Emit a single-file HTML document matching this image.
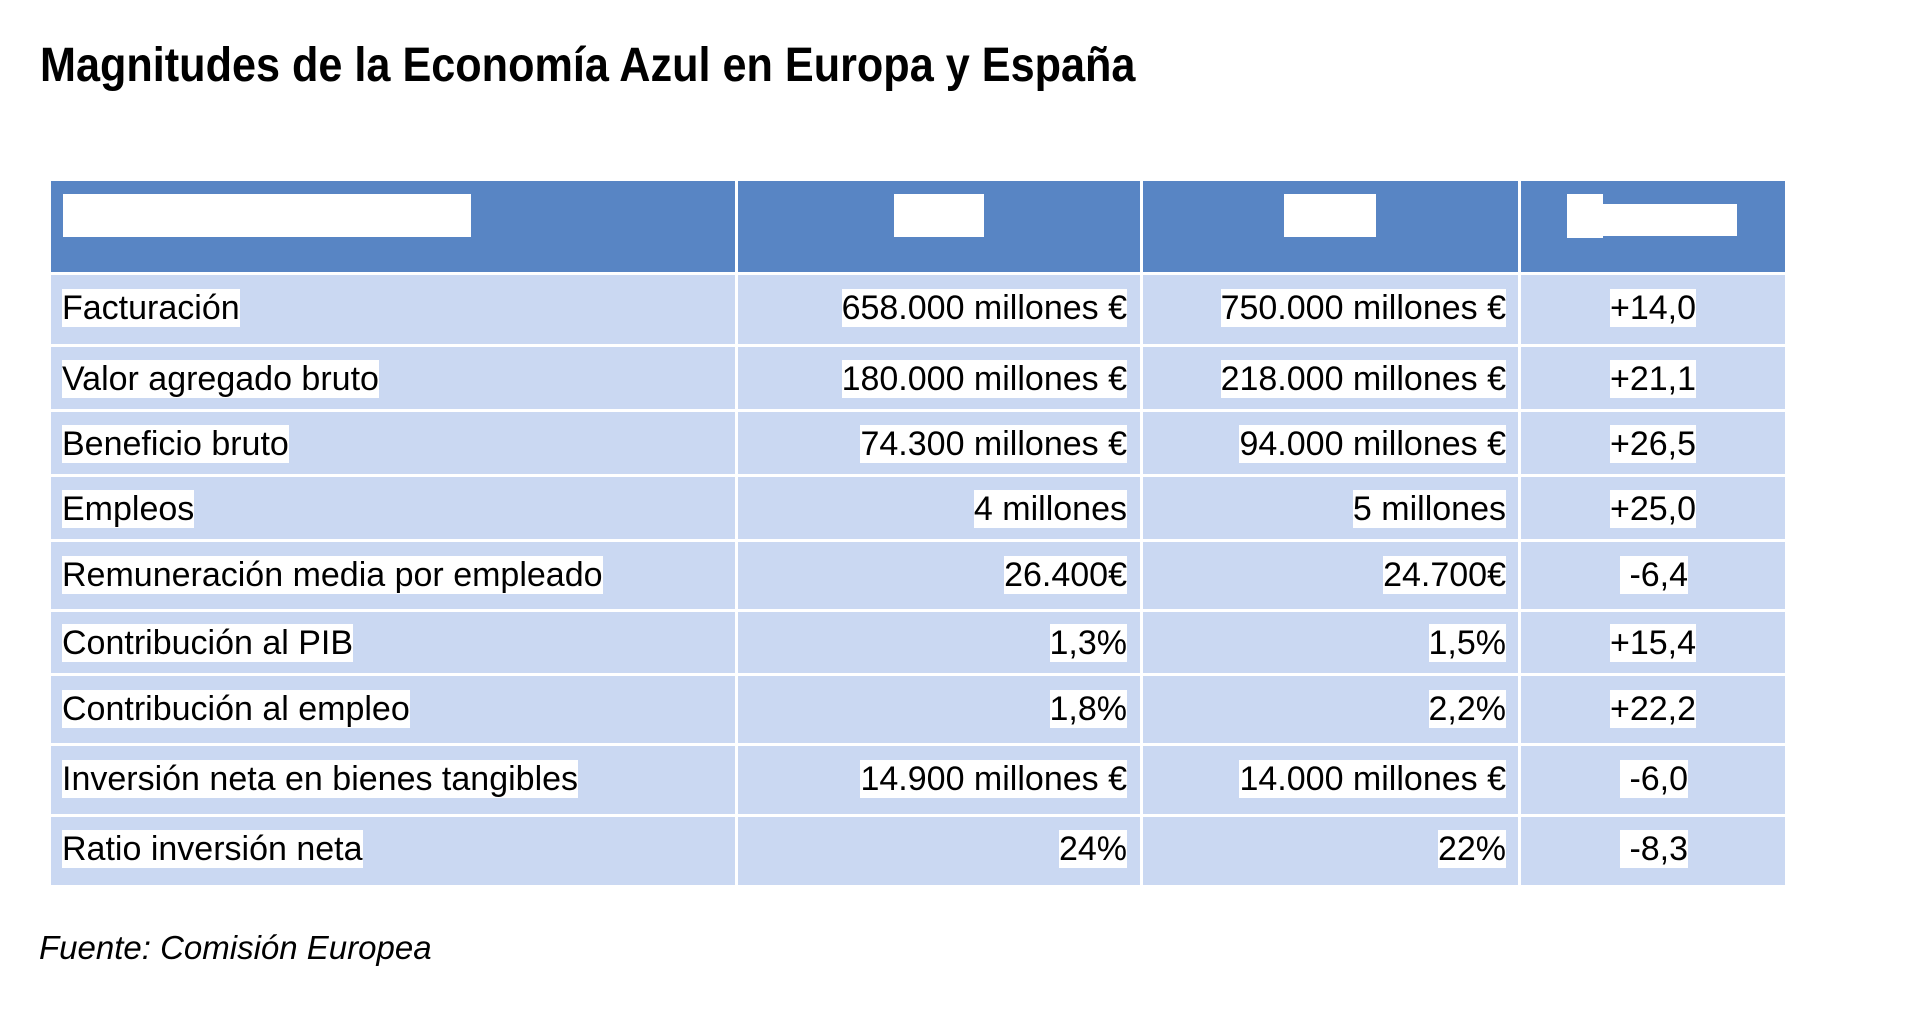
<!DOCTYPE html>
<html><head><meta charset="utf-8"><style>
body{margin:0;width:1920px;height:1013px;background:#fff;position:relative;overflow:hidden;font-family:"Liberation Sans",sans-serif;}
.t{position:absolute;left:40px;top:38px;font-size:48px;font-weight:bold;line-height:56px;white-space:nowrap;transform-origin:0 0;transform:scaleX(0.9);}
.b{position:absolute;}
.hd{background:#5885c4;}
.rw{background:#cad8f2;}
.wl{background:#fff;}
.tx{position:absolute;font-size:34px;line-height:38px;white-space:nowrap;color:#000;}
.tx span{background:#fff;}
.f{position:absolute;left:39px;top:929px;font-size:33px;font-style:italic;white-space:nowrap;}
</style></head><body>
<div class="t">Magnitudes de la Economía Azul en Europa y España</div>
<div class="b hd" style="left:51px;top:181px;width:1734px;height:92px"></div>
<div class="b rw" style="left:51px;top:273px;width:1734px;height:612px"></div>
<div class="b wl" style="left:735px;top:181px;width:3px;height:704px"></div>
<div class="b wl" style="left:1140px;top:181px;width:3px;height:704px"></div>
<div class="b wl" style="left:1518px;top:181px;width:3px;height:704px"></div>
<div class="b wl" style="left:51px;top:272px;width:1734px;height:3px"></div>
<div class="b wl" style="left:51px;top:344px;width:1734px;height:3px"></div>
<div class="b wl" style="left:51px;top:409px;width:1734px;height:3px"></div>
<div class="b wl" style="left:51px;top:474px;width:1734px;height:3px"></div>
<div class="b wl" style="left:51px;top:539px;width:1734px;height:3px"></div>
<div class="b wl" style="left:51px;top:609px;width:1734px;height:3px"></div>
<div class="b wl" style="left:51px;top:673px;width:1734px;height:3px"></div>
<div class="b wl" style="left:51px;top:743px;width:1734px;height:3px"></div>
<div class="b wl" style="left:51px;top:814px;width:1734px;height:3px"></div>
<div class="b wl" style="left:63px;top:194px;width:408px;height:43px"></div>
<div class="b wl" style="left:894px;top:194px;width:90px;height:43px"></div>
<div class="b wl" style="left:1284px;top:194px;width:92px;height:43px"></div>
<div class="b wl" style="left:1567px;top:194px;width:36px;height:44px"></div>
<div class="b wl" style="left:1603px;top:204px;width:134px;height:32px"></div>

<div class="tx" style="left:62px;top:289px"><span>Facturación</span></div>
<div class="tx" style="right:793px;top:289px"><span>658.000 millones €</span></div>
<div class="tx" style="right:414px;top:289px"><span>750.000 millones €</span></div>
<div class="tx" style="left:1610px;top:289px"><span>+14,0</span></div>

<div class="tx" style="left:62px;top:360px"><span>Valor agregado bruto</span></div>
<div class="tx" style="right:793px;top:360px"><span>180.000 millones €</span></div>
<div class="tx" style="right:414px;top:360px"><span>218.000 millones €</span></div>
<div class="tx" style="left:1610px;top:360px"><span>+21,1</span></div>

<div class="tx" style="left:62px;top:425px"><span>Beneficio bruto</span></div>
<div class="tx" style="right:793px;top:425px"><span>74.300 millones €</span></div>
<div class="tx" style="right:414px;top:425px"><span>94.000 millones €</span></div>
<div class="tx" style="left:1610px;top:425px"><span>+26,5</span></div>

<div class="tx" style="left:62px;top:490px"><span>Empleos</span></div>
<div class="tx" style="right:793px;top:490px"><span>4 millones</span></div>
<div class="tx" style="right:414px;top:490px"><span>5 millones</span></div>
<div class="tx" style="left:1610px;top:490px"><span>+25,0</span></div>

<div class="tx" style="left:62px;top:556px"><span>Remuneración media por empleado</span></div>
<div class="tx" style="right:793px;top:556px"><span>26.400€</span></div>
<div class="tx" style="right:414px;top:556px"><span>24.700€</span></div>
<div class="tx" style="left:1620px;top:556px"><span>&nbsp;-6,4</span></div>

<div class="tx" style="left:62px;top:624px"><span>Contribución al PIB</span></div>
<div class="tx" style="right:793px;top:624px"><span>1,3%</span></div>
<div class="tx" style="right:414px;top:624px"><span>1,5%</span></div>
<div class="tx" style="left:1610px;top:624px"><span>+15,4</span></div>

<div class="tx" style="left:62px;top:690px"><span>Contribución al empleo</span></div>
<div class="tx" style="right:793px;top:690px"><span>1,8%</span></div>
<div class="tx" style="right:414px;top:690px"><span>2,2%</span></div>
<div class="tx" style="left:1610px;top:690px"><span>+22,2</span></div>

<div class="tx" style="left:62px;top:760px"><span>Inversión neta en bienes tangibles</span></div>
<div class="tx" style="right:793px;top:760px"><span>14.900 millones €</span></div>
<div class="tx" style="right:414px;top:760px"><span>14.000 millones €</span></div>
<div class="tx" style="left:1620px;top:760px"><span>&nbsp;-6,0</span></div>

<div class="tx" style="left:62px;top:830px"><span>Ratio inversión neta</span></div>
<div class="tx" style="right:793px;top:830px"><span>24%</span></div>
<div class="tx" style="right:414px;top:830px"><span>22%</span></div>
<div class="tx" style="left:1620px;top:830px"><span>&nbsp;-8,3</span></div>

<div class="f">Fuente: Comisión Europea</div>
</body></html>
